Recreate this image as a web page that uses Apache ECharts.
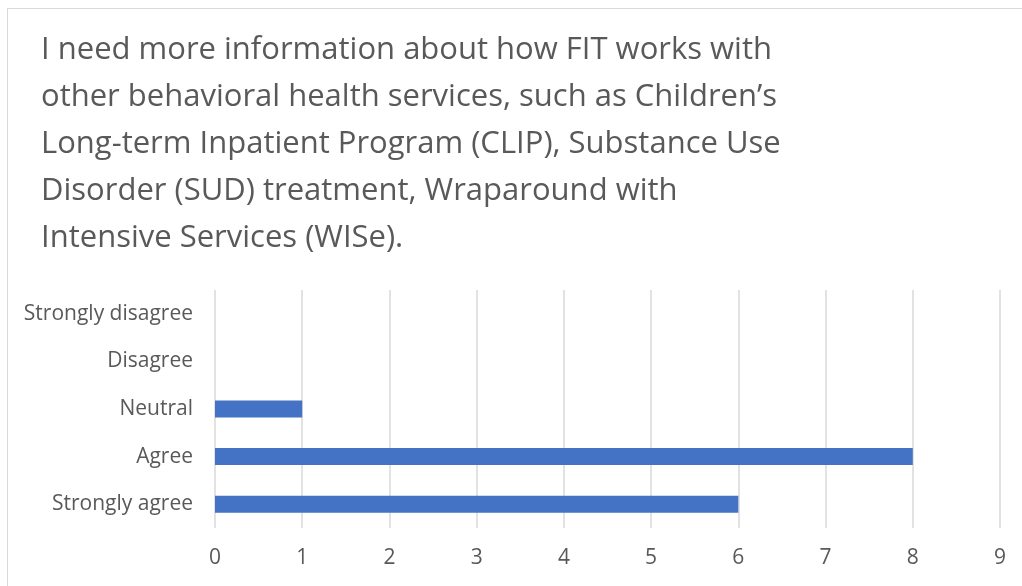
<!DOCTYPE html>
<html>
<head>
<meta charset="utf-8">
<script src="https://cdn.jsdelivr.net/npm/echarts@6/dist/echarts.min.js"></script>
<style>
  html, body { margin: 0; padding: 0; background: #fff; }
  #frame { position: absolute; left: 7px; top: 8px; width: 1100px; height: 700px; border: 1px solid #d9d9d9; }
  #main { position: absolute; left: 0; top: 0; width: 1022px; height: 586px; }
</style>
</head>
<body>
<div id="frame"></div>
<div id="main"></div>
<script>
var titleText = 'I need more information about how FIT works with\nother behavioral health services, such as Children\u2019s\nLong-term Inpatient Program (CLIP), Substance Use\nDisorder (SUD) treatment, Wraparound with\nIntensive Services (WISe).';
var categories = ['Strongly agree', 'Agree', 'Neutral', 'Disagree', 'Strongly disagree'];
var counts = [6, 8, 1, 0, 0];
var tickMax = 9;

var myChart = echarts.init(document.getElementById('main'));
var option = {
    backgroundColor: 'transparent',
    textStyle: { fontFamily: 'Open Sans' },
    title: {
        text: titleText,
        left: 36,
        top: 22,
        textStyle: {
            fontFamily: 'Open Sans',
            fontSize: 31,
            fontWeight: 'normal',
            color: '#595959',
            lineHeight: 47
        }
    },
    grid: { left: 215, right: 22, top: 290, bottom: 58 },
    xAxis: {
        type: 'value',
        min: 0,
        max: tickMax,
        interval: 1,
        axisLine: { show: false },
        axisTick: { show: false },
        axisLabel: { color: '#595959', fontSize: 21, margin: 20 },
        splitLine: { lineStyle: { color: '#d9d9d9', width: 1.5 } }
    },
    yAxis: {
        type: 'category',
        data: categories,
        axisLine: { show: false },
        axisTick: { show: false },
        axisLabel: { color: '#595959', fontSize: 21, margin: 22 }
    },
    series: [{
        type: 'bar',
        data: counts,
        barWidth: 17,
        itemStyle: { color: '#4472c4' }
    }]
};
myChart.setOption(option);
</script>
</body>
</html>
